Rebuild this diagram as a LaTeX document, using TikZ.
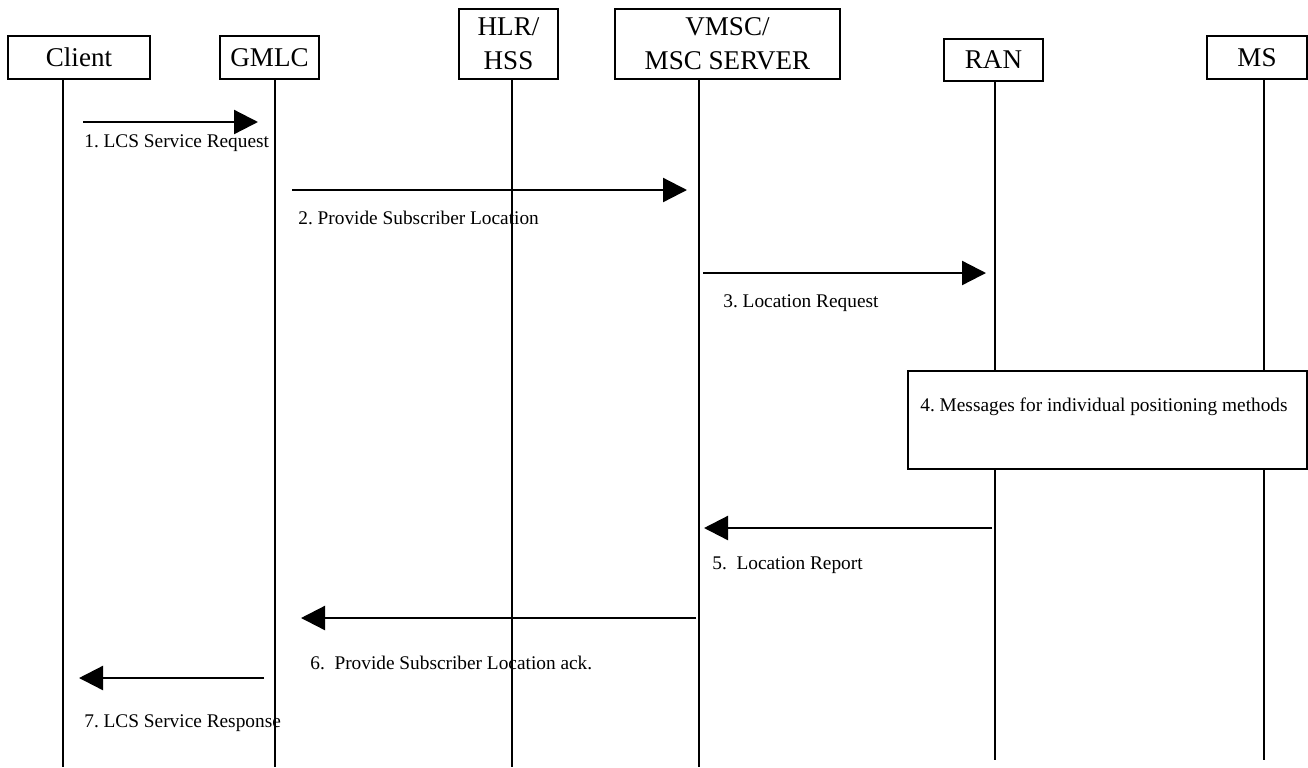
\documentclass[tikz,border=0pt]{standalone}
\usepackage{fontspec}
\setmainfont{Liberation Serif}
\usetikzlibrary{arrows.meta}
\frenchspacing

\tikzset{
	entity/.style={draw, line width=1pt, inner sep=0pt, align=center, font=\fontsize{15.4}{19.4}\selectfont},
	lifeline/.style={line width=1pt},
	msg/.style={-{Triangle[length=4.8mm,width=4.8mm]}, line width=1.3pt},
	msglabel/.style={anchor=west, inner sep=0pt, font=\fontsize{11}{13}\selectfont}
}

\begin{document}
\begin{tikzpicture}[x=0.2mm, y=-0.2mm]
		\useasboundingbox (0,0) rectangle (1308,767);
		
		\node(client) [entity, minimum width=28.4mm, minimum height=8.6mm] at (79,57.5)  {Client};
		\node(gmlc)   [entity, minimum width=19.8mm, minimum height=8.6mm] at (269.5,57.5)  {GMLC};
		\node(hlr)    [entity, minimum width=19.8mm, minimum height=14mm] at (508.5,44)  {HLR/\\HSS};
		\node(vmsc)   [entity, minimum width=45mm, minimum height=14mm] at (727.5,44)  {VMSC/\\MSC SERVER};
		\node(ran)    [entity, minimum width=19.8mm, minimum height=8.4mm] at (993.5,60)  {RAN};
		\node(ms)     [entity, minimum width=20mm, minimum height=8.6mm] at (1257,57.5)  {MS};
		
		\node(posbox) [draw, line width=1pt, minimum width=79.8mm, minimum height=19.6mm] at (1107.5,420) {};
		\node(lbl4)   [inner sep=0pt, font=\fontsize{11}{13}\selectfont] at (1104,407) {4. Messages for individual positioning methods};
		
		% lifelines
		\coordinate (clientEnd) at (63,767);
		\coordinate (gmlcEnd) at (275,767);
		\coordinate (hlrEnd) at (512,767);
		\coordinate (vmscEnd) at (699,767);
		\coordinate (ranEnd) at (995,760);
		\coordinate (msEnd) at (1264,760);
		\draw[lifeline] (client.south -| clientEnd) -- (clientEnd);
		\draw[lifeline] (gmlc.south -| gmlcEnd) -- (gmlcEnd);
		\draw[lifeline] (hlr.south -| hlrEnd) -- (hlrEnd);
		\draw[lifeline] (vmsc.south -| vmscEnd) -- (vmscEnd);
		\draw[lifeline] (ran.south -| ranEnd) -- (posbox.north -| ranEnd);
		\draw[lifeline] (posbox.south -| ranEnd) -- (ranEnd);
		\draw[lifeline] (ms.south -| msEnd) -- (posbox.north -| msEnd);
		\draw[lifeline] (posbox.south -| msEnd) -- (msEnd);
		
		% messages
		\coordinate (m1a) at (83,122);   \coordinate (m1b) at (258,122);
		\coordinate (m2a) at (292,190);  \coordinate (m2b) at (687,190);
		\coordinate (m3a) at (703,273);  \coordinate (m3b) at (986,273);
		\coordinate (m5a) at (992,528);  \coordinate (m5b) at (704,528);
		\coordinate (m6a) at (696,618);  \coordinate (m6b) at (301,618);
		\coordinate (m7a) at (264,678);  \coordinate (m7b) at (79,678);
		\draw[msg] (m1a) -- (m1b);
		\draw[msg] (m2a) -- (m2b);
		\draw[msg] (m3a) -- (m3b);
		\draw[msg] (m5a) -- (m5b);
		\draw[msg] (m6a) -- (m6b);
		\draw[msg] (m7a) -- (m7b);
		
		\node(lbl1) [msglabel] at (84,143) {1. LCS Service Request};
		\node(lbl2) [msglabel] at (298,218) {2. Provide Subscriber Location};
		\node(lbl3) [msglabel] at (723,303) {3. Location Request};
		\node(lbl5) [msglabel] at (712,565) {5.\ \ Location Report};
		\node(lbl6) [msglabel] at (310,663) {6.\ \ Provide Subscriber Location ack.};
		\node(lbl7) [msglabel] at (84,723) {7. LCS Service Response};
\end{tikzpicture}
\end{document}
